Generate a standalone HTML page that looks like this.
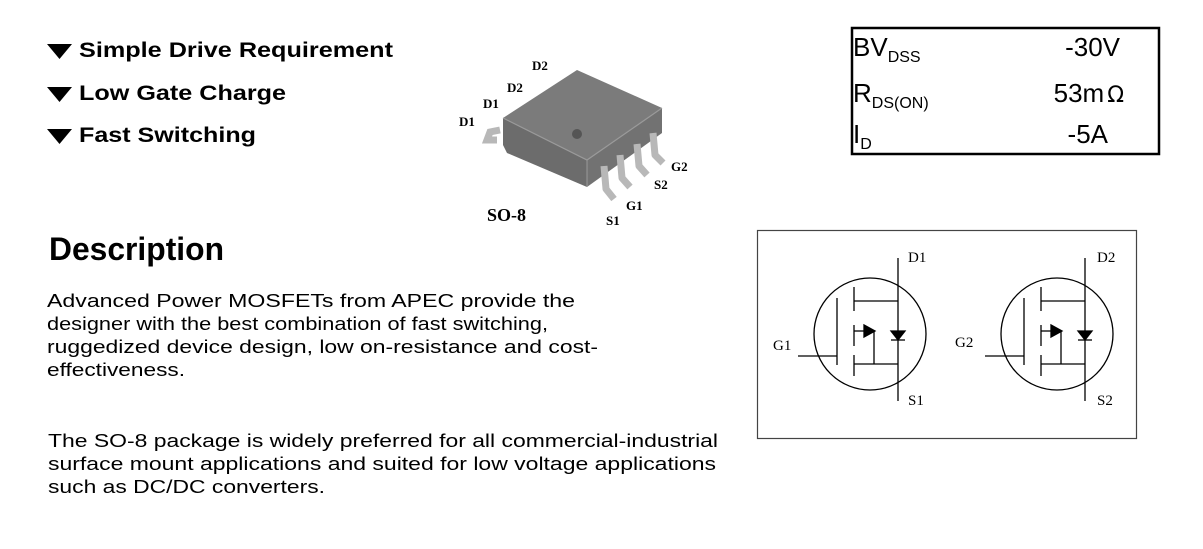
<!DOCTYPE html>
<html><head><meta charset="utf-8"><style>
html,body{margin:0;padding:0;background:#fff;}
svg{display:block;}
</style></head><body>
<svg width="1203" height="549" viewBox="0 0 1203 549" xmlns="http://www.w3.org/2000/svg" font-family="Liberation Sans, sans-serif">
<rect width="1203" height="549" fill="#fff"/>
<!-- bullets -->
<g fill="#000">
<polygon points="47,44 72,44 59.5,59"/>
<polygon points="47,87 72,87 59.5,102"/>
<polygon points="47,129 72,129 59.5,144"/>
</g>
<g font-weight="bold" font-size="21">
<text x="79" y="57" textLength="314" lengthAdjust="spacingAndGlyphs">Simple Drive Requirement</text>
<text x="79" y="100" textLength="207" lengthAdjust="spacingAndGlyphs">Low Gate Charge</text>
<text x="79" y="142" textLength="177" lengthAdjust="spacingAndGlyphs">Fast Switching</text>
</g>
<text x="49" y="260" font-weight="bold" font-size="32" textLength="175" lengthAdjust="spacingAndGlyphs">Description</text>
<g font-size="18">
<text x="47" y="307" textLength="528" lengthAdjust="spacingAndGlyphs">Advanced Power MOSFETs from APEC provide the</text>
<text x="47" y="330" textLength="501" lengthAdjust="spacingAndGlyphs">designer with the best combination of fast switching,</text>
<text x="47" y="353" textLength="551" lengthAdjust="spacingAndGlyphs">ruggedized device design, low on-resistance and cost-</text>
<text x="47" y="376" textLength="138" lengthAdjust="spacingAndGlyphs">effectiveness.</text>
<text x="48" y="447" textLength="670" lengthAdjust="spacingAndGlyphs">The SO-8 package is widely preferred for all commercial-industrial</text>
<text x="48" y="470" textLength="668" lengthAdjust="spacingAndGlyphs">surface mount applications and suited for low voltage applications</text>
<text x="48" y="493" textLength="277" lengthAdjust="spacingAndGlyphs">such as DC/DC converters.</text>
</g>
<!-- chip -->
<g>
<polyline points="500,130 490,132 487,140 497,140" fill="none" stroke="#b8b8b8" stroke-width="7"/>
<polygon points="577,70 662,108 587,160 503,118" fill="#7b7b7b"/>
<polygon points="503,118 587,160 587,187 507,153 503,145" fill="#6c6c6c"/>
<polygon points="587,160 662,108 662,133 587,187" fill="#727272"/>
<polyline points="503,118 587,160 662,108" fill="none" stroke="#9a9a9a" stroke-width="1.2"/>
<line x1="587" y1="160" x2="587" y2="187" stroke="#999" stroke-width="1"/>
<circle cx="577" cy="134" r="5" fill="#555"/>
<g fill="none" stroke="#b8b8b8" stroke-width="7" stroke-linejoin="round">
<polyline points="604,166 606,189 614,199"/>
<polyline points="620,155 622,178 630,187"/>
<polyline points="637,144 639,166 647,175"/>
<polyline points="653,133 655,155 663,163"/>
</g>
</g>
<g font-family="Liberation Serif, serif" font-weight="bold" font-size="13">
<text x="532" y="70">D2</text>
<text x="507" y="92">D2</text>
<text x="483" y="108">D1</text>
<text x="459" y="126">D1</text>
<text x="671" y="171">G2</text>
<text x="654" y="189">S2</text>
<text x="626" y="210">G1</text>
<text x="606" y="225">S1</text>
<text x="487" y="221" font-size="18">SO-8</text>
</g>
<!-- table -->
<rect x="852" y="28" width="307" height="126" fill="none" stroke="#000" stroke-width="2.5"/>
<g font-size="26">
<text x="853" y="56">BV<tspan font-size="16" dy="6">DSS</tspan></text>
<text x="853" y="102">R<tspan font-size="16" dy="6">DS(ON)</tspan></text>
<text x="853" y="143">I<tspan font-size="16" dy="6">D</tspan></text>
<text x="1120" y="56" text-anchor="end">-30V</text>
<text x="1124" y="102" text-anchor="end">53m<tspan font-family="DejaVu Sans, sans-serif" font-size="22" dx="3">Ω</tspan></text>
<text x="1108" y="143" text-anchor="end">-5A</text>
</g>
<!-- schematic -->
<rect x="757.5" y="230.5" width="379" height="208" fill="none" stroke="#444" stroke-width="1.2"/>
<g id="m1" fill="none" stroke="#000" stroke-width="1.3">
<circle cx="870" cy="334" r="56"/>
<line x1="898" y1="258" x2="898" y2="401"/>
<line x1="798" y1="356" x2="837" y2="356"/>
<line x1="837" y1="298" x2="837" y2="365"/>
<line x1="854" y1="287" x2="854" y2="311"/>
<line x1="854" y1="325" x2="854" y2="346"/>
<line x1="854" y1="355" x2="854" y2="376"/>
<line x1="854" y1="301" x2="898" y2="301"/>
<line x1="854" y1="364" x2="898" y2="364"/>
<line x1="854" y1="331" x2="866" y2="331"/>
<line x1="874" y1="331" x2="874" y2="364"/>
<polygon points="864,325 875,331 864,337" fill="#000"/>
<polygon points="891,331 905,331 898,340" fill="#000"/>
<line x1="891" y1="340" x2="905" y2="340"/>
</g>
<use href="#m1" transform="translate(187,0)"/>
<g font-family="Liberation Serif, serif" font-size="15">
<text x="908" y="262">D1</text>
<text x="908" y="405">S1</text>
<text x="773" y="350">G1</text>
<text x="1097" y="262">D2</text>
<text x="1097" y="405">S2</text>
<text x="955" y="347">G2</text>
</g>
</svg>
</body></html>
